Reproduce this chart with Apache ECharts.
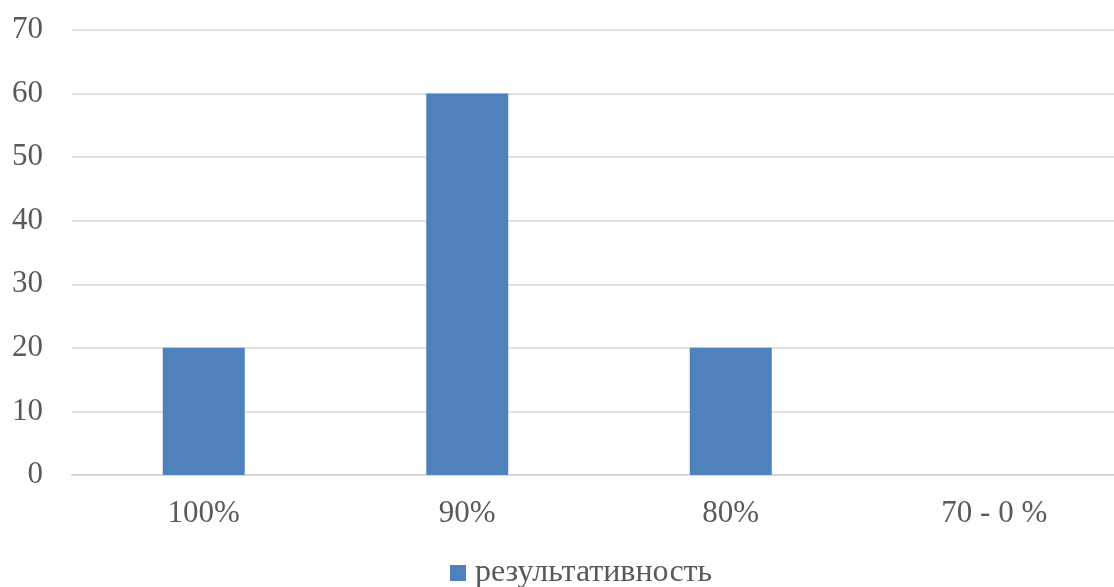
<!DOCTYPE html>
<html>
<head>
<meta charset="utf-8">
<style>
  html, body { margin: 0; padding: 0; background: #ffffff; overflow: hidden; }
  #wrap { width: 1114px; height: 587px; overflow: hidden; }
  #chart { width: 1126px; height: 587px; }
</style>
<script src="https://cdn.jsdelivr.net/npm/echarts@6/dist/echarts.min.js"></script>
</head>
<body>
<div id="wrap"><div id="chart"></div></div>
<script>
// Result groups and share of pupils in each
const categories = ['100%', '90%', '80%', '70 - 0 %'];
const seriesName = 'результативность';
const values = [20, 60, 20, 0];
const yTicks = { min: 0, max: 70, interval: 10 };

const chart = echarts.init(document.getElementById('chart'), null, { renderer: 'canvas' });
const labelFont = { fontFamily: '"Liberation Serif", "Times New Roman", serif', fontSize: 31, color: '#595959' };

chart.setOption({
  animation: false,
  backgroundColor: '#ffffff',
  grid: { left: 72, top: 30, right: 0, bottom: 112, containLabel: false },
  legend: {
    data: [seriesName],
    left: 445,
    top: 552,
    itemWidth: 16,
    itemHeight: 16,
    icon: 'rect',
    textStyle: Object.assign({}, labelFont, { fontSize: 32, padding: [0, 0, 0, 4] })
  },
  xAxis: {
    type: 'category',
    data: categories,
    axisLine: { show: true, lineStyle: { color: '#d9d9d9', width: 2 } },
    axisTick: { show: false },
    axisLabel: Object.assign({ margin: 23 }, labelFont)
  },
  yAxis: {
    type: 'value',
    min: yTicks.min,
    max: yTicks.max,
    interval: yTicks.interval,
    axisLine: { show: false },
    axisTick: { show: false },
    splitLine: { lineStyle: { color: '#d9d9d9', width: 1.5 } },
    axisLabel: Object.assign({ margin: 29 }, labelFont)
  },
  series: [{
    name: seriesName,
    type: 'bar',
    data: values,
    barWidth: 82,
    itemStyle: { color: '#4f81bd' }
  }]
});
</script>
</body>
</html>
